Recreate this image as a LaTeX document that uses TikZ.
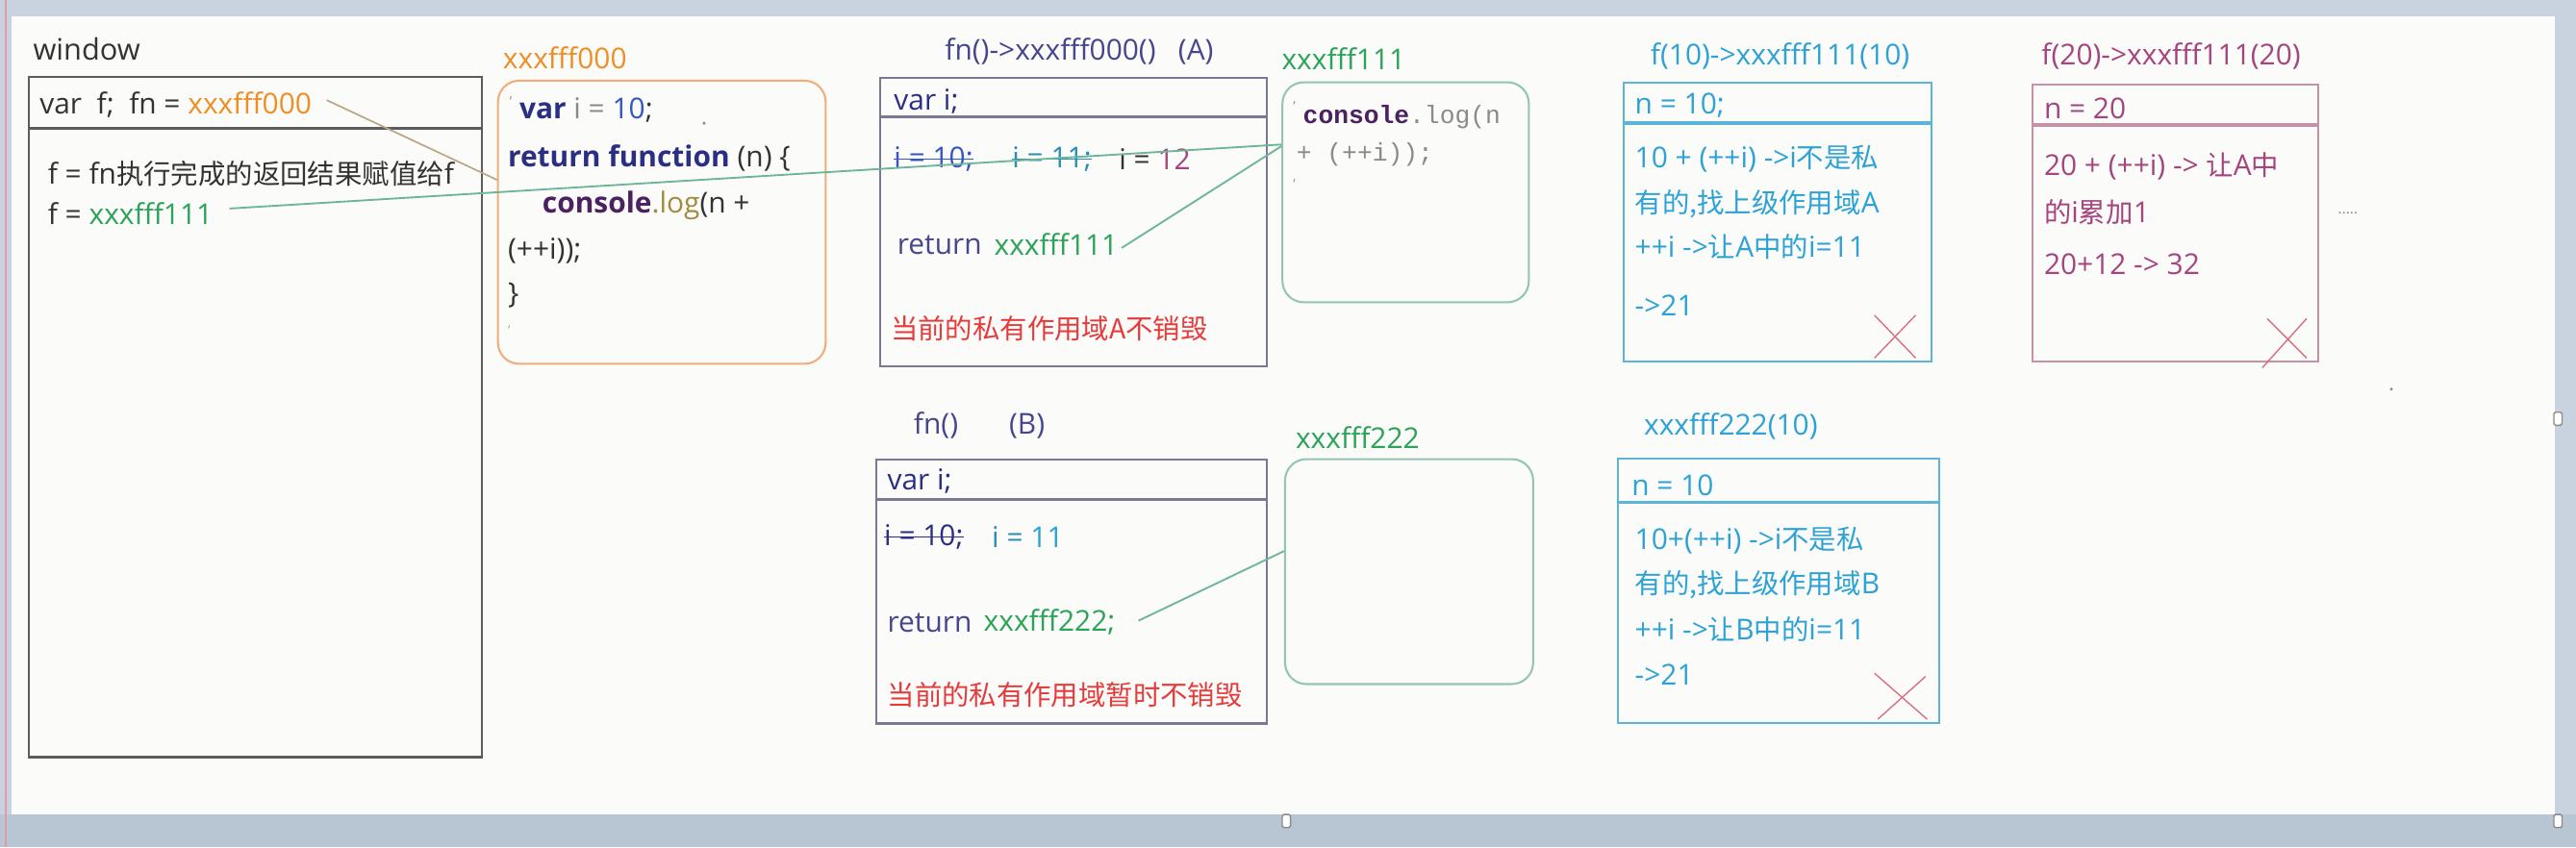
\documentclass[tikz,border=0pt]{standalone}
\usepackage{fontspec}
\setmainfont{Open Sans}
\setmonofont{Liberation Mono}
\newfontfamily\cjk{Noto Sans CJK SC}[Scale=0.95]
\usetikzlibrary{positioning,calc}
\definecolor{boardblue}{HTML}{C8D3DF}
\definecolor{boardbottom}{HTML}{B8C5D3}
\definecolor{canvas}{HTML}{FBFBF9}
\definecolor{edgepink}{HTML}{E49AAD}
\definecolor{winline}{HTML}{5C5C5C}
\definecolor{scopeline}{HTML}{7B7893}
\definecolor{heaporange}{HTML}{F2AC78}
\definecolor{heapgreen}{HTML}{92C5B2}
\definecolor{cyanline}{HTML}{5BB5D6}
\definecolor{plumline}{HTML}{C691A6}
\definecolor{txtdark}{HTML}{333333}
\definecolor{txtorange}{HTML}{EF8E24}
\definecolor{txtgreen}{HTML}{2BA358}
\definecolor{txtnavy}{HTML}{2B2F84}
\definecolor{txtblue}{HTML}{3555C5}
\definecolor{txtteal}{HTML}{2A8FB5}
\definecolor{txtplum}{HTML}{A5457F}
\definecolor{txtslate}{HTML}{46468E}
\definecolor{txtpurple}{HTML}{4C2160}
\definecolor{txtolive}{HTML}{A08C3C}
\definecolor{txtred}{HTML}{E53B3B}
\definecolor{txtcyan}{HTML}{2DA2D5}
\definecolor{txtgrey}{HTML}{8A8A8A}
\definecolor{linktan}{HTML}{BBA587}
\definecolor{linkgreen}{HTML}{6FB699}
\definecolor{crossred}{HTML}{D6707F}

\begin{document}
\begin{tikzpicture}[x=1pt, y=-1pt, font=\fontsize{17.5}{20}\selectfont, text=txtdark,
  membox/.style={draw=#1, line width=1.2pt, anchor=north west, inner sep=0pt},
  heapbox/.style={membox=#1, rounded corners=13pt},
  txt/.style={anchor=west, inner sep=0pt},
  mono/.style={font=\ttfamily\fontsize{15.4}{18}\selectfont},
  bar/.style={line width=2pt},
  strike/.style={line width=0.9pt},
  link/.style={draw=linkgreen, line width=1.1pt},
  cross/.style={draw=crossred, line width=0.8pt}]
  \useasboundingbox (0,0) rectangle (1568,516);
  % whiteboard
  \fill[boardblue] (0,0) rectangle (1568,516);
  \fill[boardbottom] (0,496) rectangle (1568,516);
  \fill[canvas] (7,10) rectangle (1555,496);
  \draw[edgepink, line width=1.5pt] (3.5,0) -- (3.5,516);
  \foreach \hx/\hy in {783/500, 1557/255, 1557/500}
    \draw[fill=white, draw=txtgrey, line width=0.8pt, rounded corners=1pt] (\hx-2.5,\hy-4) rectangle (\hx+2.5,\hy+4);
  \fill[txtgrey] (428.6,75) circle (1pt);
  \fill[txtgrey] (1455.6,237) circle (1pt);

  % window
  \node[txt, font=\fontsize{18}{20}\selectfont] (wintitle) at (20,30) {window};
  \node[membox=winline, minimum width=275.5pt, minimum height=414.5pt] (win) at (17,46) {};
  \draw[winline, bar] (win.west |- 0,78) -- (win.east |- 0,78);
  \node[txt] (winhead) at (24,64) {var\ \ f;\ \ fn = \textcolor{txtorange}{xxxfff000}};
  \node[txt] (winret) at (29,106) {f = fn{\cjk 执行完成的返回结果赋值给}f};
  \node[txt] (winf) at (29,130) {f = \textcolor{txtgreen}{xxxfff111}};

  % heap xxxfff000
  \node[txt, text=txtorange] (addrF) at (306,35) {xxxfff000};
  \node[heapbox=heaporange, minimum width=199.5pt, minimum height=172.5pt] (heapF) at (302.5,48.5) {};
  \node[txt, font=\fontsize{8}{8}\selectfont, text=txtolive] (markF) at (310,62) {'};
  \node[txt] (varF) at (316,67) {\textcolor{txtnavy}{\textbf{var}} \textcolor{txtgrey}{i =} \textcolor{txtblue}{10};};
  \node[txt] (retF) at (309,96) {\textcolor{txtnavy}{\textbf{return function}} (n) \{};
  \node[txt] (logF) at (330,125) {\textcolor{txtpurple}{\textbf{console}}\textcolor{txtolive}{.log}(n +};
  \node[txt] (argsF) at (309,153) {(++i));};
  \node[txt] (endF) at (309,180) {\}};
  \node[txt, font=\fontsize{8}{8}\selectfont, text=plumline] (tailF) at (309,201) {'};

  % scope A
  \node[txt, text=txtslate] (labelA) at (575,31) {fn()->xxxfff000()\ \ \ (A)};
  \node[membox=scopeline, minimum width=235.5pt, minimum height=175.5pt] (scopeA) at (535,47) {};
  \draw[scopeline, bar] (scopeA.west |- 0,71) -- (scopeA.east |- 0,71);
  \node[txt, text=txtnavy] (varA) at (544,62) {var i;};
  \node[txt, text=txtblue] (iA1) at (544,97) {i = 10;};
  \node[txt, text=txtteal] (iA2) at (616,97) {i = 11;};
  \node[txt] (iA3) at (681,97) {i = \textcolor{txtplum}{12}};
  \draw[txtblue, strike] (iA1.west) -- (iA1.east);
  \draw[txtteal, strike] (iA2.west) -- (iA2.east);
  \node[txt, text=txtslate] (retA) at (546,149) {return};
  \node[txt, text=txtgreen] (addrA) at (605,149) {xxxfff111};
  \node[txt, text=txtred] (keepA) at (542,200) {\cjk 当前的私有作用域A不销毁};

  % heap xxxfff111
  \node[txt, text=txtgreen] (addrG) at (780,36) {xxxfff111};
  \node[heapbox=heapgreen, minimum width=150pt, minimum height=134pt] (heapG) at (780,49.5) {};
  \node[txt, font=\fontsize{8}{8}\selectfont, text=txtgrey] (markG) at (787,65) {'};
  \node[txt, mono] (logG) at (793,71.5) {\textcolor{txtpurple}{\textbf{console}}\textcolor{txtgrey}{.log(n}};
  \node[txt, mono, text=txtgrey] (argsG) at (789,94) {+ (++i));};
  \node[txt, font=\fontsize{8}{8}\selectfont, text=txtgrey] (tailG) at (787,112) {'};

  % call f(10)
  \node[txt, text=txtcyan] (labelF10) at (1004.5,34) {f(10)->xxxfff111(10)};
  \node[membox=cyanline, minimum width=187pt, minimum height=169.5pt] (callF10) at (988,50) {};
  \draw[cyanline, bar] (callF10.west |- 0,75) -- (callF10.east |- 0,75);
  \node[txt, text=txtcyan] (nF10) at (995,64.4) {n = 10;};
  \node[txt, text=txtcyan] (stepF10a) at (995,96.6) {10 + (++i) ->i{\cjk 不是私}};
  \node[txt, text=txtcyan] (stepF10b) at (995,124) {{\cjk 有的,找上级作用域}A};
  \node[txt, text=txtcyan] (stepF10c) at (995,150) {++i ->{\cjk 让}A{\cjk 中的}i=11};
  \node[txt, text=txtcyan] (stepF10d) at (995,186) {->21};
  \draw[cross] (1141,192) -- (1166,218) (1166,192) -- (1141,218);

  % call f(20)
  \node[txt, text=txtplum] (labelF20) at (1242.5,34) {f(20)->xxxfff111(20)};
  \node[membox=plumline, minimum width=174pt, minimum height=168.5pt] (callF20) at (1236.5,51) {};
  \draw[plumline, bar] (callF20.west |- 0,76) -- (callF20.east |- 0,76);
  \node[txt, text=txtplum] (nF20) at (1244,66) {n = 20};
  \node[txt, text=txtplum] (stepF20a) at (1244,101.5) {20 + (++i) -> {\cjk 让}A{\cjk 中}};
  \node[txt, text=txtplum] (stepF20b) at (1244,129) {{\cjk 的}i{\cjk 累加}1};
  \node[txt, text=txtplum] (stepF20c) at (1244,161) {20+12 -> 32};
  \draw[cross] (1377,224) -- (1404,194) (1380,194) -- (1404,218);
  \node[txt, text=txtgrey, font=\fontsize{9}{9}\selectfont] (more) at (1423,130) {.....};

  % scope B
  \node[txt, text=txtslate] (labelB) at (556,259) {fn()\hspace{31pt}(B)};
  \node[membox=scopeline, minimum width=237.5pt, minimum height=161pt] (scopeB) at (533,279) {};
  \draw[scopeline, bar] (scopeB.west |- 0,304) -- (scopeB.east |- 0,304);
  \node[txt, text=txtnavy] (varB) at (540,293) {var i;};
  \node[txt, text=txtnavy] (iB1) at (538,327) {i = 10;};
  \draw[txtnavy, strike] (iB1.west) -- (iB1.east);
  \node[txt] (iB2) at (603.6,327) {\textcolor{txtteal}{i =} \textcolor{txtcyan}{11}};
  \node[txt, text=txtslate] (retB) at (540,379) {return};
  \node[txt, text=txtgreen] (addrB) at (598.6,379) {xxxfff222;};
  \node[txt, text=txtred] (keepB) at (540,423) {\cjk 当前的私有作用域暂时不销毁};

  % heap xxxfff222
  \node[txt, text=txtgreen] (addrH) at (788.5,266.5) {xxxfff222};
  \node[heapbox=heapgreen, minimum width=151pt, minimum height=137pt] (heapH) at (781.6,279) {};

  % call xxxfff222(10)
  \node[txt, text=txtcyan] (labelH10) at (1000.5,259.5) {xxxfff222(10)};
  \node[membox=cyanline, minimum width=196pt, minimum height=161pt] (callH10) at (984,278.7) {};
  \draw[cyanline, bar] (callH10.west |- 0,306) -- (callH10.east |- 0,306);
  \node[txt, text=txtcyan] (nH10) at (993,295.7) {n = 10};
  \node[txt, text=txtcyan] (stepH10a) at (995,329) {10+(++i) ->i{\cjk 不是私}};
  \node[txt, text=txtcyan] (stepH10b) at (995,356) {{\cjk 有的,找上级作用域}B};
  \node[txt, text=txtcyan] (stepH10c) at (995,383.5) {++i ->{\cjk 让}B{\cjk 中的}i=11};
  \node[txt, text=txtcyan] (stepH10d) at (995,410.8) {->21};
  \draw[cross] (1141,410) -- (1173,438) (1172,412) -- (1143,438);

  % links
  \draw[linktan, line width=1pt] ($(winhead.east)+(9,-3)$) -- (heapF.west |- 0,109.5);
  \draw[link] ($(winf.east)+(10,-3)$) -- (heapG.west |- 0,88);
  \draw[link] ($(addrA.east)+(2,2)$) -- (heapG.west |- 0,89);
  \draw[link] ($(addrB.east)+(14,-1)$) -- (heapH.west |- 0,335.6);
\end{tikzpicture}
\end{document}
